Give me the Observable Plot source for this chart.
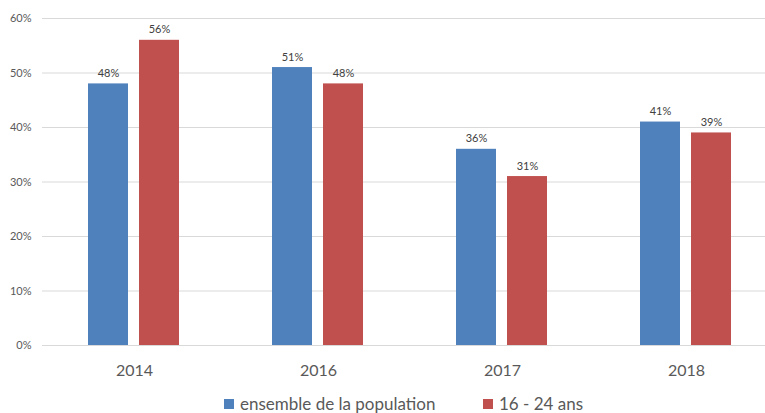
<!DOCTYPE html>
<html>
<head>
<meta charset="utf-8">
<script src="https://cdn.jsdelivr.net/npm/d3@7"></script>
<script src="https://cdn.jsdelivr.net/npm/@observablehq/plot@0.6"></script>
<style>
  body { margin: 0; background: #fff; font-family: Lato, "Open Sans", sans-serif; }
  #legend { height: 28px; font-size: 17px; color: #595959; position: relative; }
  .item { display: flex; align-items: center; position: absolute; }
  .sw { width: 10px; height: 10px; margin-right: 6px; }
</style>
</head>
<body>
<div id="chart"></div>
<div id="legend"></div>
<script>
const years = ["2014", "2016", "2017", "2018"];
const seriesNames = ["ensemble de la population", "16 - 24 ans"];
const populationValues = [48, 51, 36, 41];
const youthValues = [56, 48, 31, 39];
const colors = ["#4F81BD", "#C0504D"];
const yTicks = [0, 10, 20, 30, 40, 50, 60];

const data = [];
years.forEach((y, i) => {
  data.push({year: y, series: seriesNames[0], value: populationValues[i]});
  data.push({year: y, series: seriesNames[1], value: youthValues[i]});
});

const chart = Plot.plot({
  width: 765,
  height: 385,
  marginTop: 18,
  marginBottom: 40,
  marginLeft: 42,
  marginRight: 0,
  style: {fontFamily: "Lato, 'Open Sans', sans-serif", background: "#fff"},
  fx: {domain: years, range: [42, 778], paddingInner: 0, paddingOuter: 0, label: null, axis: null},
  x: {domain: seriesNames, paddingInner: 0.21, paddingOuter: 0.875, axis: null},
  y: {domain: [0, 60], label: null},
  color: {domain: seriesNames, range: colors},
  marks: [
    Plot.ruleY(yTicks, {stroke: "#d9d9d9", strokeWidth: 1, facetAnchor: null}),
    Plot.axisY(yTicks, {tickSize: 0, tickPadding: 11, tickFormat: d => d + "%", fontSize: 11, fill: "#595959", label: null}),
    Plot.axisFx({anchor: "bottom", tickSize: 0, tickPadding: 19, fontSize: 16, fill: "#595959", label: null}),
    Plot.barY(data, {fx: "year", x: "series", y: "value", fill: "series"}),
    Plot.text(data, {fx: "year", x: "series", y: "value", text: d => d.value + "%", lineAnchor: "bottom", dy: -7, fontSize: 11, fill: "#404040"})
  ]
});
document.getElementById("chart").appendChild(chart);

const legend = document.getElementById("legend");
const lx = [224, 483];
seriesNames.forEach((s, i) => {
  const it = document.createElement("div");
  it.className = "item";
  it.style.left = lx[i] + "px";
  it.style.top = "8px";
  const sw = document.createElement("div");
  sw.className = "sw";
  sw.style.background = colors[i];
  const t = document.createElement("span");
  t.textContent = s;
  it.appendChild(sw);
  it.appendChild(t);
  legend.appendChild(it);
});
</script>
</body>
</html>
